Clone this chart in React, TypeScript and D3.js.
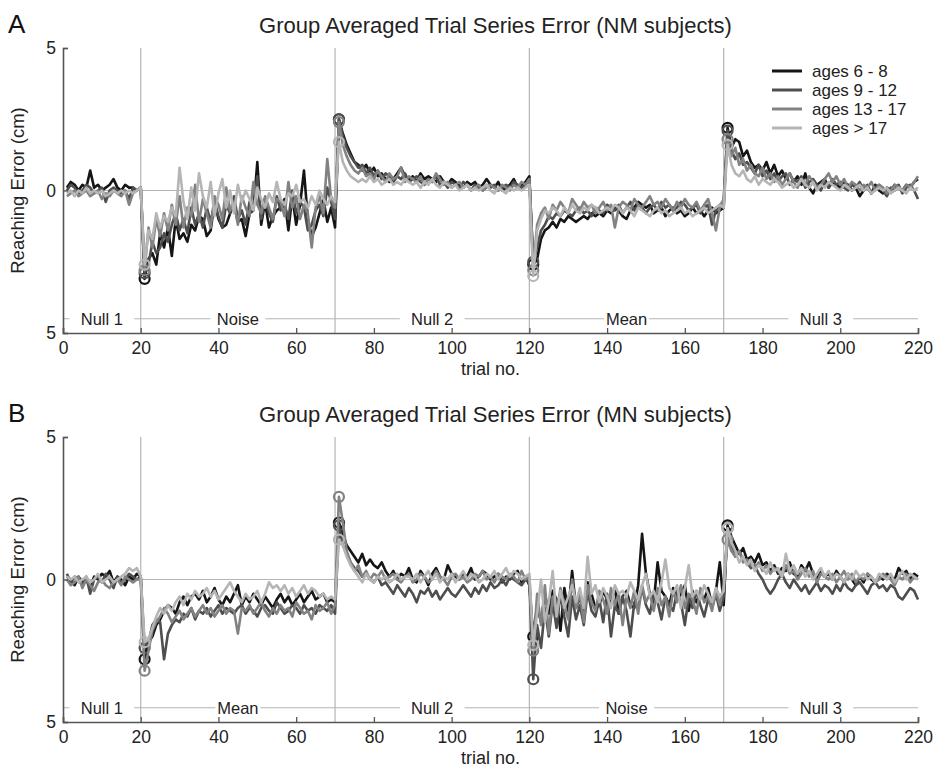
import React, { useRef, useEffect } from 'react';
import * as d3 from 'd3';

// legend groups, drawn in this order (last on top)
const groups = ["ages 6 - 8", "ages 9 - 12", "ages 13 - 17", "ages > 17"];
const colors = ["#151515", "#4e4e4e", "#828282", "#b5b5b5"];

const phaseStarts = [1, 21, 71, 121, 171];
const boundaries = [20, 70, 120, 170];
const phasesNM = ["Null 1", "Noise", "Null 2", "Mean", "Null 3"];
const phasesMN = ["Null 1", "Mean", "Null 2", "Noise", "Null 3"];
const xTicks = [0, 20, 40, 60, 80, 100, 120, 140, 160, 180, 200, 220];
const yTicks = [5, 0, -5];
const yTickLabels = ["5", "0", "5"];

// ---- Panel A : NM subjects (one array per phase) ----
const nm68 = [
  [0.1,0.3,0.2,0.0,0.2,0.1,0.7,0.1,0.2,0.0,0.1,0.2,0.4,0.1,0.0,0.2,0.1,0.1,0.0,0.1],
  [-3.1,-2.4,-2.2,-2.6,-1.5,-2.0,-1.3,-2.3,-1.0,-1.7,-1.5,-1.8,-1.2,-1.4,-0.9,-1.0,-1.6,-1.4,-0.4,-1.0,-1.3,-1.2,-0.8,-0.5,-1.1,-1.0,-1.6,-0.8,-0.7,1.0,-1.2,-0.4,-1.3,-0.9,-0.7,-0.6,-0.3,-1.4,-0.2,-1.2,-0.5,0.7,-1.0,-1.6,-1.3,-0.8,-0.3,-1.1,-0.6,-1.3],
  [2.5,2.0,1.6,1.3,1.0,0.9,0.7,0.9,0.6,0.8,0.5,0.6,0.4,0.3,0.4,0.6,0.8,0.5,0.4,0.5,0.3,0.6,0.4,0.5,0.4,0.3,0.5,0.3,0.2,0.4,0.3,0.2,0.1,0.3,0.2,0.3,0.1,0.2,0.4,0.2,0.1,0.3,0.0,0.1,0.2,0.4,0.1,0.2,0.3,0.5],
  [-2.6,-2.4,-1.7,-1.4,-1.3,-1.1,-1.3,-1.0,-1.1,-0.9,-1.0,-1.1,-1.0,-0.9,-1.0,-0.8,-0.9,-0.8,-0.9,-0.7,-0.8,-0.6,-0.7,-0.9,-1.0,-0.7,-0.6,-0.4,-0.5,-0.6,-0.5,-0.8,-0.7,-0.6,-0.9,-0.7,-0.6,-0.8,-0.7,-0.9,-0.8,-0.6,-0.8,-0.7,-0.9,-0.7,-0.6,-0.8,-0.7,-0.6],
  [2.2,1.5,1.8,1.7,1.2,1.4,1.0,0.8,0.9,0.7,1.0,0.6,0.9,0.5,0.7,0.4,0.6,0.3,0.5,0.2,0.6,0.1,-0.1,0.2,0.3,0.4,0.1,0.3,0.2,0.1,0.3,0.2,0.0,0.1,-0.2,0.0,0.1,-0.1,0.2,0.0,-0.1,0.1,0.0,0.2,0.1,0.0,0.2,0.1,0.3,0.4],
];
const nm912 = [
  [0.0,0.2,0.1,-0.1,0.0,0.2,0.1,-0.1,0.0,0.1,-0.4,0.0,0.1,0.0,-0.1,0.0,-0.3,0.1,0.0,0.1],
  [-2.9,-2.6,-1.8,-2.2,-2.0,-1.5,-1.8,-1.2,-0.8,-1.4,-1.0,-1.5,-0.6,-1.2,-0.8,-1.3,-0.6,-1.1,-0.4,-0.9,-1.3,-0.5,-0.8,-0.2,-1.0,-0.7,-1.2,-0.4,-0.6,0.5,-1.0,-0.3,-0.8,-1.1,-0.2,-0.7,-0.5,-1.0,0.0,-0.8,-0.4,-0.6,-1.4,-1.2,-0.7,-0.5,-0.9,0.1,-0.4,-1.0],
  [2.5,1.9,1.5,1.2,1.0,0.8,0.9,0.6,0.8,0.5,0.7,0.4,0.6,0.5,0.3,0.5,0.4,0.6,0.3,0.4,0.5,0.3,0.2,0.4,0.3,0.5,0.2,0.3,0.1,0.3,0.2,0.1,0.3,0.2,0.0,0.2,0.1,0.0,0.2,0.1,0.2,0.0,0.1,0.2,0.1,0.3,0.2,0.1,0.2,0.4],
  [-2.5,-2.0,-1.4,-1.2,-0.9,-1.0,-0.8,-0.9,-0.7,-0.8,-0.9,-0.7,-0.6,-0.8,-0.7,-0.9,-0.6,-0.7,-0.8,-0.5,-0.6,-0.7,-0.5,-0.8,-0.6,-0.4,-0.7,-0.5,-0.6,-0.8,-0.6,-0.5,-0.7,-0.4,-0.6,-0.5,-0.7,-0.6,-0.4,-0.5,-0.7,-0.6,-0.5,-0.8,-0.6,-0.5,-1.2,-0.7,-0.5,-0.4],
  [2.1,1.4,1.1,1.3,0.9,1.0,0.8,0.6,0.9,0.5,0.7,0.4,0.6,0.3,0.5,0.6,0.2,0.4,0.3,0.5,0.1,0.3,0.4,0.2,0.0,0.3,0.1,0.4,0.2,0.3,0.1,0.0,0.2,0.1,0.3,0.0,0.2,-0.1,0.1,0.2,0.0,-0.2,0.1,0.0,0.2,-0.1,0.1,0.2,0.0,-0.3],
];
const nm1317 = [
  [-0.2,-0.1,0.0,-0.2,-0.1,0.0,-0.2,-0.1,0.0,-0.3,-0.1,-0.2,0.0,-0.1,-0.2,0.0,-0.5,-0.1,0.0,0.1],
  [-2.8,-1.3,-2.0,-1.0,-1.6,-0.8,-1.4,-0.5,-1.2,-0.2,-1.3,-0.6,-0.9,0.2,-1.1,-0.3,-0.8,-1.3,-0.2,-0.5,-1.0,0.1,-0.7,-0.4,-1.2,-0.2,-0.6,-0.9,0.3,-0.5,-0.8,-0.2,-0.6,-1.0,-0.3,-0.4,-0.9,0.3,-0.6,-0.2,-1.0,-0.5,-0.8,-2.0,-0.6,-0.2,-0.8,1.1,-0.3,-0.6],
  [2.4,1.6,1.2,0.9,0.7,0.6,0.8,0.5,0.6,0.4,0.7,0.5,0.3,0.6,0.4,0.5,0.8,0.3,0.5,0.4,0.3,0.5,0.2,0.4,0.3,0.6,0.4,0.2,0.3,0.1,0.2,0.3,0.1,0.2,0.0,0.1,0.2,0.0,0.1,0.2,0.1,0.0,0.2,0.1,0.0,0.2,0.1,0.3,0.2,0.4],
  [-2.8,-1.2,-0.8,-0.6,-1.0,-0.5,-0.7,-0.4,-0.6,-0.8,-0.3,-0.5,-0.7,-0.4,-0.6,-0.5,-0.8,-0.6,-0.4,-0.7,-0.5,-1.3,-0.6,-0.4,-0.5,-0.7,-0.3,-0.5,-0.6,-0.4,-0.2,-0.5,-0.4,-0.6,-0.3,-0.5,-0.7,-0.4,-0.6,-0.3,-0.5,-0.6,-0.4,-0.7,-0.5,-0.3,-0.8,-1.4,-0.6,-0.3],
  [1.8,1.2,1.5,0.9,1.1,0.7,0.9,0.6,0.5,0.8,0.4,0.6,0.3,0.5,0.2,0.4,0.6,0.3,0.1,0.4,0.2,0.5,0.3,0.1,0.2,0.4,0.6,0.3,0.5,0.2,0.4,0.1,0.3,0.2,0.0,0.2,0.1,0.3,0.0,0.2,0.1,-0.1,0.0,0.2,0.1,0.0,0.2,0.1,0.3,0.5],
];
const nm17 = [
  [-0.1,0.0,-0.2,0.0,-0.1,0.1,-0.1,0.0,-0.1,0.0,-0.2,-0.1,0.0,-0.1,0.0,-0.1,0.0,-0.1,0.0,0.1],
  [-2.6,-1.4,-1.7,-0.8,-1.3,-0.9,-1.1,-0.6,-0.9,0.8,-0.4,-1.0,0.1,-0.7,0.6,-0.2,-0.6,0.3,-0.9,-0.1,0.4,-0.6,0.0,-0.8,0.2,-0.4,0.0,-0.3,-0.7,0.1,-0.3,-0.6,-0.1,-0.4,0.3,-0.3,-0.5,-0.1,-0.2,0.2,-0.4,-0.3,-0.6,-0.2,-0.5,0.0,-0.3,-0.5,-0.2,-0.4],
  [1.7,1.0,0.7,0.5,0.4,0.3,0.4,0.3,0.5,0.3,0.4,0.2,0.3,0.4,0.2,0.3,0.2,0.4,0.3,0.2,0.3,0.1,0.3,0.2,0.4,0.2,0.1,0.3,0.2,0.1,0.2,0.0,0.1,0.2,0.0,0.1,0.0,0.1,0.2,0.0,-0.1,0.1,0.0,-0.1,0.1,0.0,0.1,0.0,0.1,0.2],
  [-3.0,-1.4,-1.0,-0.7,-0.8,-0.6,-0.7,-0.9,-0.6,-0.8,-0.5,-0.7,-0.8,-0.6,-0.7,-0.5,-0.6,-0.8,-0.7,-0.6,-0.7,-0.5,-0.6,-0.8,-0.6,-0.7,-0.9,-0.6,-0.7,-0.8,-0.9,-0.7,-0.6,-0.8,-0.7,-0.9,-0.8,-0.7,-0.6,-0.8,-0.7,-0.9,-0.8,-0.7,-0.6,-0.8,-0.7,-0.6,-0.5,-0.6],
  [1.6,0.9,0.6,0.5,0.7,0.4,0.3,0.5,0.2,0.4,0.3,0.2,0.4,0.3,0.1,0.2,0.3,0.1,0.2,0.4,0.2,0.1,0.3,0.0,0.2,0.1,0.3,0.2,0.1,0.0,0.2,0.1,0.0,0.1,0.2,0.0,0.1,-0.1,0.0,0.1,0.0,0.1,-0.1,0.0,0.1,0.0,-0.1,0.1,0.0,0.1],
];

// ---- Panel B : MN subjects ----
const mn68 = [
  [0.1,0.0,-0.2,0.1,-0.1,0.0,-0.3,0.1,0.0,0.2,0.1,0.3,-0.1,0.1,0.0,-0.2,0.1,0.0,0.2,0.1],
  [-2.8,-2.2,-2.0,-1.6,-1.4,-1.1,-0.9,-1.0,-1.2,-0.8,-0.6,-0.9,-0.6,-0.5,-0.7,-0.4,-0.8,-0.6,-0.3,-0.7,-0.9,-0.6,-0.8,-0.5,-0.2,-0.9,-0.6,-0.8,-0.5,-0.7,-0.9,-0.6,-0.8,-1.0,-0.7,-0.5,-0.8,-0.6,-0.9,-0.7,-0.5,-0.8,-0.6,-0.4,-0.7,-0.6,-0.5,-0.8,-0.7,-0.8],
  [2.0,1.6,1.2,1.0,0.8,0.6,0.9,0.5,0.7,0.5,0.4,0.6,0.3,0.1,0.3,0.0,0.2,0.1,0.4,0.0,-0.1,0.3,0.1,-0.2,0.2,0.4,0.1,0.0,0.5,0.2,0.1,0.0,0.2,0.1,0.4,0.0,0.1,0.3,0.2,0.0,0.1,0.2,-0.1,0.1,0.0,0.2,0.3,-0.1,0.1,-0.2],
  [-2.0,-0.9,-1.5,-0.5,-1.2,-0.4,-0.7,-1.8,-0.3,-1.1,0.3,-1.0,-0.6,-1.3,-0.1,-0.5,-1.0,-0.9,-0.4,-0.7,-0.8,-0.3,-1.2,-0.6,-0.4,-0.9,-1.0,-0.2,1.6,0.2,-0.5,-0.8,0.6,-0.4,-0.6,-0.9,-0.3,-0.7,-0.5,-0.2,-1.1,-0.4,-0.8,-0.5,-0.7,-0.3,-0.9,-0.4,0.6,-0.9],
  [1.9,1.5,1.2,0.9,1.1,0.7,0.8,0.6,0.9,0.5,0.6,0.3,0.5,0.2,0.4,0.3,0.6,0.2,0.1,0.5,0.3,0.6,0.2,0.0,0.3,0.1,0.2,0.0,0.3,0.1,-0.1,0.2,0.0,-0.2,0.1,-0.1,0.2,0.0,-0.1,0.1,0.0,0.2,0.1,0.0,0.4,0.2,0.3,0.0,0.2,0.1],
];
const mn912 = [
  [0.2,-0.1,0.1,0.0,-0.2,0.1,-0.5,0.0,0.1,-0.1,0.2,0.0,-0.3,0.1,-0.1,0.0,0.2,0.1,0.0,0.1],
  [-2.4,-2.2,-1.6,-1.4,-1.5,-2.8,-1.9,-1.6,-1.4,-1.5,-1.2,-1.3,-1.0,-1.4,-1.1,-1.2,-1.0,-1.3,-1.1,-0.9,-1.2,-1.0,-1.1,-1.2,-1.0,-0.9,-1.2,-1.0,-1.1,-1.3,-1.0,-0.9,-1.1,-1.2,-0.8,-1.0,-1.2,-1.1,-0.9,-1.0,-1.2,-0.9,-1.1,-1.0,-1.2,-0.9,-1.0,-1.1,-0.9,-1.2],
  [1.9,1.2,0.9,0.6,0.4,0.3,0.1,0.2,0.0,-0.1,0.1,-0.2,-0.1,-0.3,-0.5,-0.2,-0.4,-0.6,-0.3,-0.5,-0.8,-0.4,-0.5,-0.3,-0.6,-0.4,-0.7,-0.5,-0.3,-0.5,-0.6,-0.4,-0.2,-0.4,-0.6,-0.3,-0.5,-0.2,-0.4,-0.1,-0.3,-0.2,0.0,-0.2,0.1,0.0,-0.1,-0.2,0.0,-0.1],
  [-3.5,-1.6,-2.4,-1.0,-2.0,-0.8,-1.7,-0.5,-1.3,-2.0,-0.6,-1.4,-0.9,-1.6,-0.4,-1.1,-1.3,-0.7,-1.5,-0.5,-2.0,-0.9,-1.2,-0.6,-1.1,-2.0,-0.8,-1.0,-0.3,-0.9,-1.2,-0.5,-0.8,-1.4,-0.6,-0.9,-1.1,-0.4,-0.8,-1.6,-0.6,-1.0,-0.4,-0.9,-1.3,-0.7,-1.0,-0.5,-1.1,-0.6],
  [1.8,1.2,0.9,1.0,0.7,0.6,0.4,0.5,0.2,0.0,-0.3,-0.5,-0.3,0.0,0.2,-0.1,-0.3,0.0,-0.2,-0.4,-0.2,-0.5,-0.3,-0.1,-0.4,-0.2,-0.3,-0.5,-0.2,-0.4,-0.1,-0.3,-0.4,-0.2,-0.1,-0.3,-0.5,-0.2,-0.1,-0.3,-0.2,-0.4,-0.2,-0.3,-0.6,-0.7,-0.5,-0.3,-0.4,-0.7],
];
const mn1317 = [
  [0.0,-0.2,-0.1,0.1,-0.3,0.0,-0.2,-0.4,-0.1,0.0,-0.2,-0.3,-0.1,0.0,-0.2,0.1,0.0,-0.1,0.0,0.0],
  [-3.2,-2.5,-1.8,-1.5,-1.3,-1.0,-1.2,-1.5,-1.3,-1.1,-1.4,-1.2,-1.0,-1.3,-1.1,-0.9,-1.2,-1.0,-1.3,-1.1,-0.9,-1.2,-1.0,-1.1,-1.9,-1.0,-1.1,-0.9,-1.2,-1.0,-0.8,-1.1,-1.3,-1.0,-1.2,-0.9,-1.1,-1.0,-1.3,-0.8,-1.0,-1.2,-1.1,-1.4,-0.9,-1.1,-1.0,-0.8,-1.2,-0.9],
  [2.9,2.0,1.0,0.6,0.3,0.5,0.1,0.3,0.0,0.2,0.1,0.3,0.0,0.1,0.2,0.0,-0.1,0.1,0.2,-0.1,0.0,0.2,0.1,-0.1,0.0,0.3,0.1,0.0,-0.2,0.1,0.2,0.0,0.1,-0.1,0.0,0.2,0.1,0.3,0.0,0.1,-0.1,0.2,0.1,0.0,0.2,0.1,-0.1,0.3,0.0,0.1],
  [-2.5,-0.5,-1.6,-0.2,-1.9,-0.6,-1.2,-0.3,-0.9,-1.4,0.0,-1.0,-0.5,-1.5,-0.2,-0.8,-1.1,-0.4,-0.7,-1.2,-0.3,-0.9,-0.5,-1.6,-0.6,-1.0,-0.4,-1.2,-0.2,-0.8,-0.5,-1.1,-0.3,-0.9,-0.6,-1.3,-0.4,-0.8,-0.2,-1.0,-0.5,-0.7,-1.2,-0.3,-0.8,-0.6,-1.1,-0.4,-0.9,-0.2],
  [1.4,1.0,0.8,1.0,0.6,0.7,0.5,0.4,0.6,0.3,0.5,0.2,0.4,0.3,0.1,0.5,0.2,0.3,0.0,0.2,0.4,0.1,0.3,-0.1,0.2,0.1,0.0,0.2,-0.1,0.1,0.3,0.0,0.2,-0.1,0.1,0.0,0.2,0.1,-0.1,0.0,0.2,0.1,0.0,-0.2,0.1,0.0,0.2,-0.1,0.1,0.0],
];
const mn17 = [
  [0.1,0.0,0.1,-0.1,0.0,0.1,-0.1,0.0,0.2,-0.1,0.0,0.1,-0.1,0.0,0.1,0.2,0.4,0.3,0.4,0.1],
  [-2.2,-2.1,-1.7,-1.3,-1.0,-1.2,-0.9,-1.1,-0.8,-0.6,-0.9,-0.5,-0.7,-0.4,-0.6,-0.5,-0.3,-0.6,-0.4,-0.7,-0.5,-0.3,-0.1,-0.4,-0.6,-0.8,-0.5,-0.7,-0.6,-0.4,-0.8,-0.5,-0.1,-0.3,-0.2,-0.4,-0.2,-0.5,-0.3,-0.6,-0.4,-0.2,-0.5,-0.3,-0.4,-0.6,-0.5,-0.7,-0.6,-0.7],
  [1.4,1.2,0.8,0.5,0.3,0.1,-0.1,0.2,0.0,-0.1,0.1,0.0,0.1,-0.1,0.0,0.2,0.0,0.1,0.1,0.0,0.2,-0.1,0.1,0.3,0.0,0.2,-0.1,0.1,0.0,0.2,-0.1,0.1,0.3,0.0,0.2,0.1,-0.1,0.0,0.2,0.1,0.3,0.0,0.2,0.4,0.1,0.3,0.2,0.0,0.1,0.2],
  [-2.3,-1.2,0.0,-1.5,-0.8,0.3,-1.3,-0.4,-1.0,-0.6,-0.2,-0.8,-0.3,-1.0,0.8,-0.5,-0.2,-0.8,-0.3,-0.6,-1.0,-0.2,-0.5,-0.4,-0.6,-0.1,-0.4,-0.7,-0.2,0.2,-0.6,-0.4,-0.8,-0.1,0.7,-0.3,-0.5,-0.2,-1.0,-0.3,0.5,-0.6,-0.4,-0.7,-0.2,-0.5,-0.8,-0.3,-0.6,-0.4],
  [1.8,1.3,1.0,0.6,0.8,0.5,0.7,0.3,0.5,0.4,0.2,0.6,0.3,0.4,0.1,0.9,0.3,0.5,0.2,0.4,0.1,0.3,0.0,0.2,0.4,0.1,0.3,0.0,0.2,0.1,-0.1,0.2,0.0,0.3,0.1,0.2,0.0,0.1,-0.1,0.2,0.1,0.0,0.2,-0.1,0.1,0.3,0.0,0.2,0.1,0.0],
];

const seriesNM = [nm68, nm912, nm1317, nm17];
const seriesMN = [mn68, mn912, mn1317, mn17];

const font = "'Liberation Sans', Arial, Helvetica, sans-serif";

function App() {
  const ref = useRef(null);
  const width = 933;
  const height = 771;

  useEffect(() => {
    const svg = d3.select(ref.current);
    svg.selectAll("*").remove();
    drawPanel(svg, 0, "A", "Group Averaged Trial Series Error (NM subjects)", seriesNM, phasesNM, true);
    drawPanel(svg, 389, "B", "Group Averaged Trial Series Error (MN subjects)", seriesMN, phasesMN, false);
  }, []);

  const drawPanel = (svg, offY, letter, title, series, phases, showLegend) => {
    var margin = { top: 48, left: 63, right: 15 };
    var plotH = 285;
    var g = svg.append("g").attr("transform", "translate(0," + offY + ")");

    var x = d3.scaleLinear().domain([0, 220]).range([margin.left, width - margin.right]);
    var y = d3.scaleLinear().domain([-5, 5]).range([margin.top + plotH, margin.top]);

    // panel letter and title
    g.append("text").attr("x", 8).attr("y", 33).attr("font-family", font)
      .attr("font-size", 26).attr("fill", "#111").text(letter);
    g.append("text").attr("x", (x(0) + x(220)) / 2 + 5).attr("y", 33).attr("text-anchor", "middle")
      .attr("font-family", font).attr("font-size", 22).attr("fill", "#222").text(title);

    // reference lines
    g.append("line").attr("x1", x(0)).attr("x2", x(220)).attr("y1", y(0)).attr("y2", y(0))
      .attr("stroke", "#b5b5b5").attr("stroke-width", 1.2);
    g.selectAll(".vb").data(boundaries).join("line")
      .attr("x1", d => x(d)).attr("x2", d => x(d)).attr("y1", y(5)).attr("y2", y(-5))
      .attr("stroke", "#b5b5b5").attr("stroke-width", 1.2);

    // phase label line
    g.append("line").attr("x1", x(0)).attr("x2", x(220)).attr("y1", y(-4.5)).attr("y2", y(-4.5))
      .attr("stroke", "#b5b5b5").attr("stroke-width", 1.2);
    var ends = boundaries.concat([220]);
    var mids = phaseStarts.map((s, i) => (s - 1 + ends[i]) / 2);
    var pl = g.append("g").selectAll("g").data(phases).join("g")
      .attr("transform", (d, i) => `translate(${x(mids[i])},${y(-4.5)})`);
    pl.append("rect").attr("x", d => -d.length * 4.9 - 3).attr("y", -9)
      .attr("width", d => d.length * 9.8 + 6).attr("height", 18).attr("fill", "white");
    pl.append("text").attr("text-anchor", "middle").attr("dy", "0.36em")
      .attr("font-family", font).attr("font-size", 16.5).attr("fill", "#222").text(d => d);

    // data lines
    var line = d3.line().x(d => x(d[0])).y(d => y(d[1]));
    series.forEach((phaseArrays, si) => {
      var pts = [];
      phaseArrays.forEach((vals, pi) => {
        vals.forEach((v, j) => pts.push([phaseStarts[pi] + j, v]));
      });
      g.append("path").datum(pts).attr("d", line).attr("fill", "none")
        .attr("stroke", colors[si]).attr("stroke-width", 2.6).attr("stroke-linejoin", "round");
      var firsts = phaseArrays.slice(1).map((vals, pi) => [phaseStarts[pi + 1], vals[0]]);
      g.append("g").selectAll("circle").data(firsts).join("circle")
        .attr("cx", d => x(d[0])).attr("cy", d => y(d[1])).attr("r", 5)
        .attr("fill", "none").attr("stroke", colors[si]).attr("stroke-width", 2.2);
    });

    // axes
    var xAxis = d3.axisBottom(x).tickValues(xTicks).tickSize(-5).tickPadding(9).tickFormat(d3.format("d"));
    g.append("g").attr("transform", `translate(0,${y(-5)})`).call(xAxis)
      .call(a => a.select(".domain").attr("stroke", "#555").attr("stroke-width", 1.6))
      .call(a => a.selectAll(".tick line").attr("stroke", "#555").attr("stroke-width", 1.3))
      .call(a => a.selectAll(".tick text").attr("font-family", font).attr("font-size", 17.5).attr("fill", "#222"));
    var yAxis = d3.axisLeft(y).tickValues(yTicks).tickSize(-5).tickPadding(7).tickFormat((d, i) => yTickLabels[i]);
    g.append("g").attr("transform", `translate(${x(0)},0)`).call(yAxis)
      .call(a => a.select(".domain").attr("stroke", "#555").attr("stroke-width", 1.6))
      .call(a => a.selectAll(".tick line").attr("stroke", "#555").attr("stroke-width", 1.3))
      .call(a => a.selectAll(".tick text").attr("font-family", font).attr("font-size", 17.5).attr("fill", "#222"));

    g.append("text").attr("x", (x(0) + x(220)) / 2).attr("y", margin.top + plotH + 42)
      .attr("text-anchor", "middle").attr("font-family", font).attr("font-size", 18)
      .attr("fill", "#222").text("trial no.");
    g.append("text").attr("transform", `translate(24,${y(0)}) rotate(-90)`)
      .attr("text-anchor", "middle").attr("font-family", font).attr("font-size", 18.5)
      .attr("fill", "#222").text("Reaching Error (cm)");

    if (showLegend) {
      var lg = g.append("g").selectAll("g").data(groups).join("g")
        .attr("transform", (d, i) => `translate(772,${71 + i * 19})`);
      lg.append("line").attr("x1", 0).attr("x2", 30).attr("stroke", (d, i) => colors[i]).attr("stroke-width", 3);
      lg.append("text").attr("x", 40).attr("dy", "0.35em").attr("font-family", font)
        .attr("font-size", 17).attr("fill", "#222").text(d => d);
    }
  };

  return (
    <div style={{ position: "absolute", left: 0, top: 0, background: "white" }}>
      <svg ref={ref} width={width} height={height} style={{ display: "block" }}></svg>
    </div>
  );
}

export default App;
